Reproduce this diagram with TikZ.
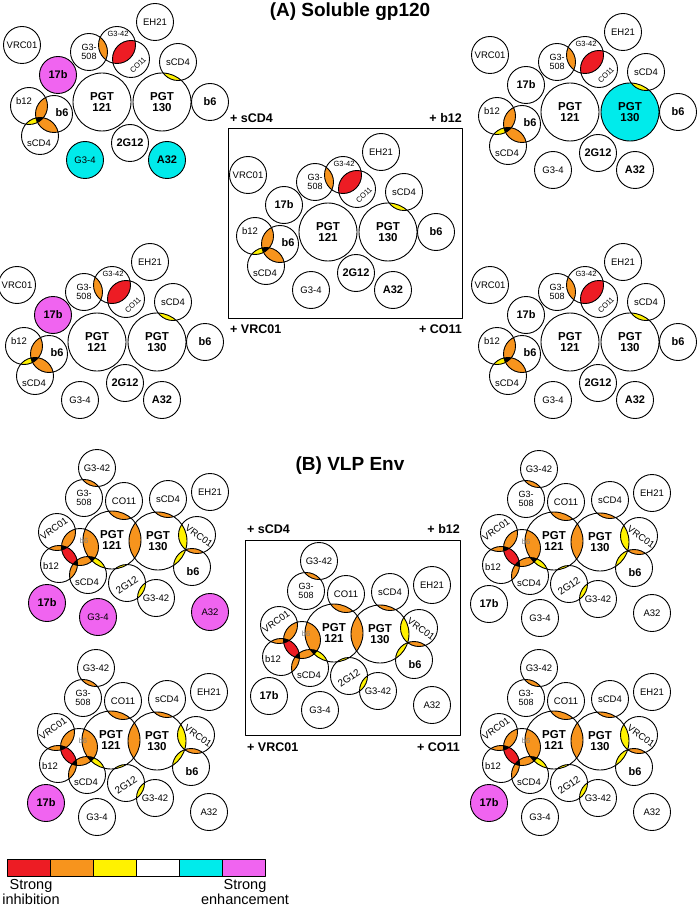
\documentclass[tikz,border=0pt]{standalone}
\usepackage{fontspec}
\setmainfont{Liberation Sans}
\usetikzlibrary{calc}
\pgfdeclarelayer{background}
\pgfsetlayers{background,main}

\definecolor{inhred}{RGB}{237,28,36}
\definecolor{inhorange}{RGB}{247,148,29}
\definecolor{inhyellow}{RGB}{255,242,0}
\definecolor{enhcyan}{RGB}{0,235,235}
\definecolor{enhpink}{RGB}{240,100,240}

% fill / clip by the circle of a named node
\newcommand{\clipnode}[1]{\path[clip] let \p1=(#1.center), \p2=(#1.east) in (#1.center) circle[radius=\x2-\x1];}
\newcommand{\fillnode}[2]{\fill[#2] let \p1=(#1.center), \p2=(#1.east) in (#1.center) circle[radius=\x2-\x1];}
\newcommand{\lens}[3]{\begin{scope}\clipnode{#1}\fillnode{#2}{#3}\end{scope}}
\newcommand{\triple}[4]{\begin{scope}\clipnode{#1}\clipnode{#2}\fillnode{#3}{#4}\end{scope}}

\tikzset{
  ab/.style={circle, draw, line width=0.9pt, minimum size=37pt, inner sep=0pt, outer sep=0pt, align=center, font=\fontsize{9.5}{9}\selectfont},
  pgt/.style={ab, minimum size=58pt, font=\fontsize{11.5}{10.5}\selectfont\bfseries},
  bld/.style={font=\fontsize{11}{11}\selectfont\bfseries},
  txt/.style={font=\fontsize{9.5}{9.5}\selectfont, inner sep=0pt},
  smalltxt/.style={font=\fontsize{7.5}{7.5}\selectfont, inner sep=0pt},
  pluslbl/.style={font=\fontsize{12.5}{12.5}\selectfont\bfseries, inner sep=0pt},
  % soluble gp120 map
  pics/solgp/.style n args={4}{code={
    \node[ab] (vrc01) at (22,45) {VRC01};
    \node[ab] (eh21) at (155,22) {EH21};
    \node[ab, font=\fontsize{9}{8.5}\selectfont] (g508) at (89,52) {G3-\\508};
    \node[ab] (g42) at (117,45) {};
    \node[ab] (co11) at (131,59) {};
    \node[ab] (scd4a) at (178,62) {sCD4};
    \node[ab, bld] (n17b) at (58,75) {17b};
    \node[pgt] (pgt121) at (102,102) {PGT\\121};
    \node[pgt] (pgt130) at (162,102) {PGT\\130};
    \node[ab, bld] (b6a) at (210,102) {b6};
    \node[ab] (b12) at (29,106) {};
    \node[ab] (b6b) at (54,114) {};
    \node[ab] (scd4b) at (40,136) {};
    \node[ab, bld] (g2g12) at (130,143) {2G12};
    \node[ab] (g34) at (85,160) {G3-4};
    \node[ab, bld] (a32) at (167,160) {A32};
    \node[smalltxt] (g42t) at (118,34) {G3-42};
    \node[smalltxt, rotate=45] (co11t) at (138,65) {CO11};
    \node[txt] (b12t) at (24,101) {b12};
    \node[txt, bld] (b6bt) at (62,113) {b6};
    \node[txt] (scd4bt) at (39,143) {sCD4};
    \begin{pgfonlayer}{background}
      \fillnode{n17b}{#1}
      \fillnode{g34}{#2}
      \fillnode{a32}{#3}
      \fillnode{pgt130}{#4}
      \lens{g508}{g42}{inhorange}
      \lens{g42}{co11}{inhred}
      \lens{pgt130}{scd4a}{inhyellow}
      \lens{b12}{b6b}{inhorange}
      \lens{b6b}{scd4b}{inhorange}
      \lens{b12}{scd4b}{inhyellow}
      \triple{b12}{b6b}{scd4b}{black}
    \end{pgfonlayer}
  }},
  % VLP Env map
  pics/vlp/.style n args={3}{code={
    \node[ab] (g42a) at (97,468) {G3-42};
    \node[ab, font=\fontsize{9}{8.5}\selectfont] (g508) at (84,498) {G3-\\508};
    \node[ab] (co11) at (124,501) {CO11};
    \node[ab] (scd4a) at (168,499) {sCD4};
    \node[ab] (eh21) at (210,492) {EH21};
    \node[pgt] (pgt121) at (112,540) {PGT\\121};
    \node[pgt] (pgt130) at (158,541) {PGT\\130};
    \node[ab] (vrc01a) at (57,532) {};
    \node[ab] (b6s) at (80,547) {};
    \node[ab] (b12) at (59,564) {};
    \node[ab] (scd4b) at (88,575) {};
    \node[ab] (vrc01b) at (197,535) {};
    \node[ab] (b6b) at (192,567) {};
    \node[ab] (g2g12) at (127,583) {};
    \node[ab] (g42b) at (156,598) {G3-42};
    \node[ab, bld] (n17b) at (47,603) {17b};
    \node[ab] (g34) at (98,617) {G3-4};
    \node[ab] (a32) at (210,612) {A32};
    \node[txt, rotate=35] (vrc01at) at (54,529) {VRC01};
    \node[smalltxt, gray] (b6st) at (84,541) {b6};
    \node[txt] (b12t) at (51,566) {b12};
    \node[txt] (scd4bt) at (87,582) {sCD4};
    \node[txt, rotate=-35] (vrc01bt) at (199,536) {VRC01};
    \node[txt, bld] (b6bt) at (193,572) {b6};
    \node[txt, font=\fontsize{10}{10}\selectfont, rotate=35] (g2g12t) at (127,585) {2G12};
    \begin{pgfonlayer}{background}
      \fillnode{n17b}{#1}
      \fillnode{g34}{#2}
      \fillnode{a32}{#3}
      \lens{g42a}{g508}{inhorange}
      \lens{pgt121}{co11}{inhorange}
      \lens{pgt130}{scd4a}{inhorange}
      \lens{pgt121}{pgt130}{inhorange}
      \lens{pgt130}{vrc01b}{inhyellow}
      \lens{pgt130}{b6b}{inhyellow}
      \lens{vrc01b}{b6b}{inhorange}
      \triple{pgt130}{vrc01b}{b6b}{black}
      \lens{pgt121}{g2g12}{inhyellow}
      \lens{g2g12}{g42b}{inhyellow}
      \lens{pgt121}{scd4b}{inhyellow}
      \lens{vrc01a}{b12}{inhorange}
      \lens{vrc01a}{b6s}{inhorange}
      \lens{b6s}{scd4b}{inhorange}
      \lens{b12}{scd4b}{inhorange}
      \lens{b6s}{pgt121}{inhorange}
      \lens{b6s}{b12}{inhred}
      \triple{vrc01a}{b6s}{b12}{black}
      \triple{b6s}{b12}{scd4b}{black}
      \triple{b6s}{scd4b}{pgt121}{black}
    \end{pgfonlayer}
  }},
}

\begin{document}
\begin{tikzpicture}[x=1pt, y=-1pt, line cap=round, line join=round]
  \useasboundingbox (0,0) rectangle (700,909);

  % (A) soluble gp120
  \node[font=\fontsize{19}{19}\selectfont\bfseries] (titleA) at (350,12) {(A) Soluble gp120};
  \pic (A1) at (0,0) {solgp={enhpink}{enhcyan}{enhcyan}{white}};
  \pic (A2) at (468,10) {solgp={white}{white}{white}{enhcyan}};
  \pic (A0) at (226,130) {solgp={white}{white}{white}{white}};
  \pic (A3) at (-5,240) {solgp={enhpink}{white}{white}{white}};
  \pic (A4) at (468,240) {solgp={white}{white}{white}{white}};
  \draw[line width=0.9pt] (228,128) rectangle (462,318);
  \node[pluslbl, anchor=west] (pa1) at (230,118) {+ sCD4};
  \node[pluslbl, anchor=east] (pa2) at (462,118) {+ b12};
  \node[pluslbl, anchor=west] (pa3) at (230,329) {+ VRC01};
  \node[pluslbl, anchor=east] (pa4) at (462,329) {+ CO11};

  % (B) VLP Env
  \node[font=\fontsize{19}{19}\selectfont\bfseries] (titleB) at (350,466) {(B) VLP Env};
  \pic (B1) at (0,0) {vlp={enhpink}{enhpink}{enhpink}};
  \pic (B2) at (442,1) {vlp={white}{white}{white}};
  \pic (B0) at (222,93) {vlp={white}{white}{white}};
  \pic (B3) at (-1,200) {vlp={enhpink}{white}{white}};
  \pic (B4) at (442,200) {vlp={enhpink}{white}{white}};
  \draw[line width=0.9pt] (245,540) rectangle (460,735);
  \node[pluslbl, anchor=west] (pb1) at (247,529) {+ sCD4};
  \node[pluslbl, anchor=east] (pb2) at (460,529) {+ b12};
  \node[pluslbl, anchor=west] (pb3) at (247,747) {+ VRC01};
  \node[pluslbl, anchor=east] (pb4) at (460,747) {+ CO11};

  % colour key
  \foreach \c [count=\i from 0] in {inhred,inhorange,inhyellow,white,enhcyan,enhpink}
    \draw[fill=\c, line width=0.8pt] ({7+43*\i},859) rectangle +(43,17);
  \node[font=\fontsize{14.5}{14.5}\selectfont, align=center] (kinh) at (31,892) {Strong\\inhibition};
  \node[font=\fontsize{14.5}{14.5}\selectfont, align=center] (kenh) at (245,892) {Strong\\enhancement};
\end{tikzpicture}
\end{document}
